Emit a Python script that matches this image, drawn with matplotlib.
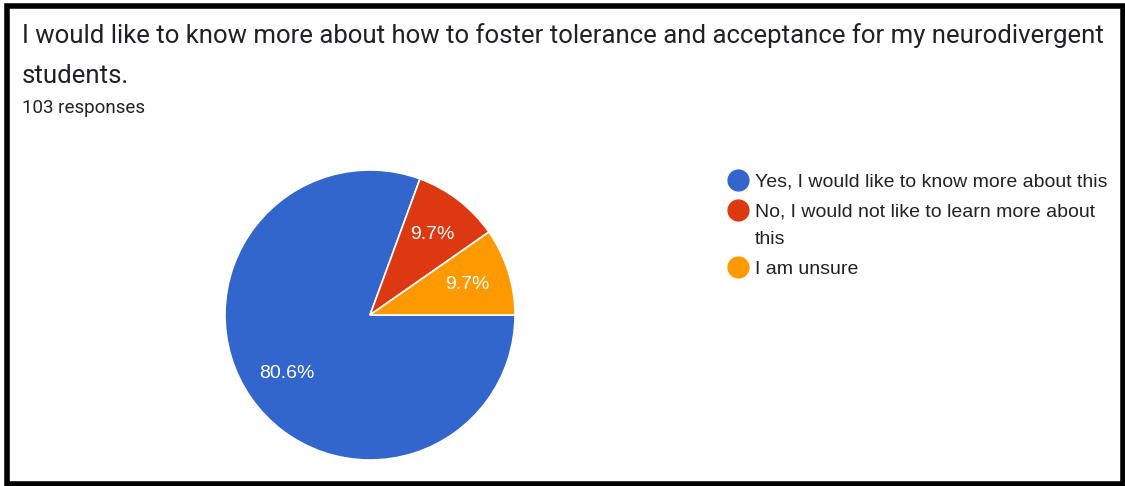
import matplotlib
matplotlib.use("Agg")
import matplotlib.pyplot as plt
from matplotlib.patches import Rectangle

# survey results
title_lines = ["I would like to know more about how to foster tolerance and acceptance for my neurodivergent",
               "students."]
n_responses = 103
labels = [["Yes, I would like to know more about this"],
          ["No, I would not like to learn more about", "this"],
          ["I am unsure"]]
shares = [80.6, 9.7, 9.7]
colors = ["#3366CC", "#DC3912", "#FF9900"]

W, H = 1125, 486
fig = plt.figure(figsize=(W / 100, H / 100), dpi=100)
fig.patch.set_facecolor("white")

# overlay in pixel coords for frame, title and legend
ov = fig.add_axes([0, 0, 1, 1])
ov.set_xlim(0, W)
ov.set_ylim(H, 0)
ov.axis("off")

ov.add_patch(Rectangle((6.5, 6.5), W - 9, H - 9, fill=False, edgecolor="black", linewidth=4))

ov.text(22, 43, title_lines[0], fontsize=18.5, family="Roboto", color="#202124", va="baseline")
ov.text(22, 83, title_lines[1], fontsize=18.5, family="Roboto", color="#202124", va="baseline")
ov.text(22, 113, f"{n_responses} responses", fontsize=13.5, family="Roboto", color="#202124", va="baseline")

# pie
cx, cy, r = 370, 315, 145
ax = fig.add_axes([(cx - r) / W, (H - cy - r) / H, 2 * r / W, 2 * r / H])
wedges, texts, autotexts = ax.pie(shares, colors=colors, startangle=0, counterclock=False,
                                  autopct="%.1f%%", pctdistance=0.7,
                                  wedgeprops=dict(edgecolor="white", linewidth=1.2))
for t in autotexts:
    t.set_color("white")
    t.set_fontsize(14)
    t.set_family("Liberation Sans")
ax.set_xlim(-1, 1)
ax.set_ylim(-1, 1)

# legend
rows = [180, 210, 267]
for lab, col, y in zip(labels, colors, rows):
    ov.plot([738], [y], "o", markersize=15, color=col)
    for i, line in enumerate(lab):
        ov.text(755, y + 6.5 + 27 * i, line, fontsize=14, family="Liberation Sans",
                color="#222222", va="baseline")

fig.savefig("out.png", dpi=100)
